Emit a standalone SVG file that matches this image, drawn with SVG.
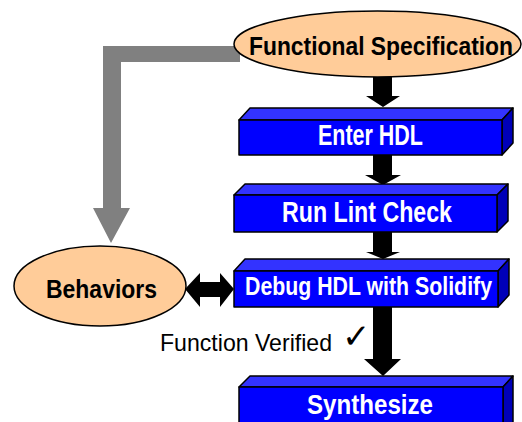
<svg xmlns="http://www.w3.org/2000/svg" width="522" height="422" viewBox="0 0 522 422">
<style>
.ell{fill:#FFCC99;stroke:#000;stroke-width:1.5}
.front{fill:#0000FF;stroke:#000;stroke-width:1.5;stroke-linejoin:round}
.top{fill:#3333FF;stroke:#000;stroke-width:1.5;stroke-linejoin:round}
.side{fill:#0000B8;stroke:#000;stroke-width:1.5;stroke-linejoin:round}
.lbl{font-family:"Liberation Sans",Arial,sans-serif;font-weight:bold;text-anchor:middle}
.wl{fill:#fff}
.bl{fill:#000}
.arr{fill:#000}
</style>
<rect width="522" height="422" fill="#fff"/>
<g id="connectors">
  <polygon fill="#808080" points="103,46 240,46 240,62 121,62 121,208 130,208 111,243 93,208 103,208"/>
  <polygon class="arr" points="373,74 392,74 392,96 400,96 383,107 366,96 373,96"/>
  <polygon class="arr" points="373,155 392,155 392,175 401,175 383,185 365,175 373,175"/>
  <polygon class="arr" points="373,232 392,232 392,252 400,252 383,259 366,252 373,252"/>
  <polygon class="arr" points="373,307 392,307 392,359 401,359 383,376 364,359 373,359"/>
  <polygon class="arr" points="185,289 200,273 200,282 220,282 220,273 234,289 220,307 220,297 200,297 200,307"/>
</g>
<g id="functional-specification">
  <ellipse class="ell" cx="377.5" cy="44" rx="143.5" ry="33"/>
  <text class="lbl bl" x="381" y="55" font-size="25" textLength="264" lengthAdjust="spacingAndGlyphs">Functional Specification</text>
</g>
<g id="enter-hdl">
  <polygon class="top" points="239,120 250,108 513,108 502,120"/>
  <polygon class="side" points="502,120 513,108 513,143 502,155"/>
  <rect class="front" x="239" y="120" width="263" height="35"/>
  <text class="lbl wl" x="370.5" y="145" font-size="29" textLength="105" lengthAdjust="spacingAndGlyphs">Enter HDL</text>
</g>
<g id="run-lint-check">
  <polygon class="top" points="234,195 245,184 508,184 497,195"/>
  <polygon class="side" points="497,195 508,184 508,221 497,232"/>
  <rect class="front" x="234" y="195" width="263" height="37"/>
  <text class="lbl wl" x="367" y="222" font-size="29" textLength="170" lengthAdjust="spacingAndGlyphs">Run Lint Check</text>
</g>
<g id="debug-hdl">
  <polygon class="top" points="234,271 245,259 509,259 498,271"/>
  <polygon class="side" points="498,271 509,259 509,295 498,307"/>
  <rect class="front" x="234" y="271" width="264" height="36"/>
  <text class="lbl wl" x="368.5" y="295" font-size="26" textLength="247" lengthAdjust="spacingAndGlyphs">Debug HDL with Solidify</text>
</g>
<g id="synthesize">
  <polygon class="top" points="239,387 250,376 513,376 503,387"/>
  <polygon class="side" points="503,387 513,376 513,422 503,430"/>
  <rect class="front" x="239" y="387" width="264" height="43"/>
  <text class="lbl wl" x="370" y="414" font-size="28" textLength="126" lengthAdjust="spacingAndGlyphs">Synthesize</text>
</g>
<g id="behaviors">
  <ellipse class="ell" cx="100" cy="286" rx="86" ry="40"/>
  <text class="lbl bl" x="101.5" y="298" font-size="26" textLength="111" lengthAdjust="spacingAndGlyphs">Behaviors</text>
</g>
<g id="function-verified">
  <text x="160" y="351" font-family="'Liberation Sans',Arial,sans-serif" font-size="24" fill="#000" textLength="172" lengthAdjust="spacingAndGlyphs">Function Verified</text>
  <text x="342" y="348" font-family="'DejaVu Sans',sans-serif" font-size="34" font-weight="bold" fill="#000">✓</text>
</g>
</svg>
